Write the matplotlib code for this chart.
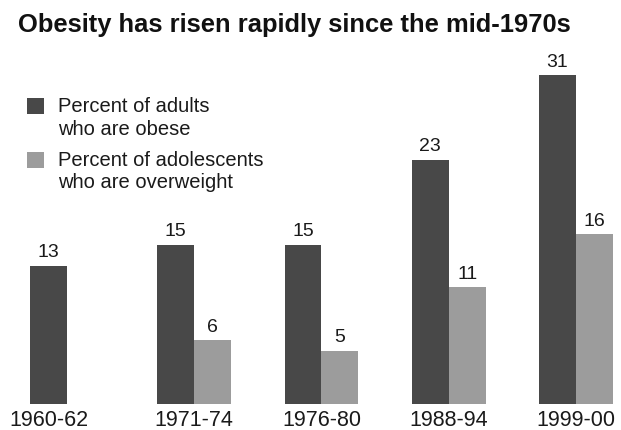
import matplotlib
matplotlib.use("Agg")
import matplotlib.pyplot as plt
from matplotlib.patches import Rectangle
import numpy as np

plt.rcParams['font.family'] = ['Liberation Sans', 'DejaVu Sans']

periods = ["1960-62", "1971-74", "1976-80", "1988-94", "1999-00"]
adults_obese = [13, 15, 15, 23, 31]
adolescents_overweight = [None, 6, 5, 11, 16]
legend_labels = ["Percent of adults\nwho are obese", "Percent of adolescents\nwho are overweight"]
title = "Obesity has risen rapidly since the mid-1970s"

dark = "#484848"
light = "#9c9c9c"

W, H = 621, 430
fig = plt.figure(figsize=(W / 100, H / 100), dpi=100)

# axes geometry in pixels
x_left, x_right = 16.1, 620.5
y_base, y_top = 404, 40
ax = fig.add_axes([x_left / W, (H - y_base) / H, (x_right - x_left) / W, (y_base - y_top) / H])
ax.set_xlim(-0.4, 4.35)
ax.set_ylim(0, 364 / 10.6)

w = 0.29
x = np.arange(len(periods))
tick_pos = []
for i, (a, b) in enumerate(zip(adults_obese, adolescents_overweight)):
    ax.bar(x[i] - w / 2, a, width=w, color=dark, linewidth=0)
    ax.annotate(str(a), (x[i] - w / 2, a), xytext=(0, 3.5), textcoords="offset points",
                ha="center", va="bottom", fontsize=14, color="#1a1a1a")
    if b is not None:
        ax.bar(x[i] + w / 2, b, width=w, color=light, linewidth=0)
        ax.annotate(str(b), (x[i] + w / 2, b), xytext=(0, 3.5), textcoords="offset points",
                    ha="center", va="bottom", fontsize=14, color="#1a1a1a")
        tick_pos.append(x[i])
    else:
        tick_pos.append(x[i] - w / 2)

ax.set_xticks(tick_pos)
ax.set_xticklabels(periods, fontsize=15.5, color="#1a1a1a")
ax.tick_params(axis="x", length=0, pad=4)
ax.set_yticks([])
for s in ax.spines.values():
    s.set_visible(False)
ax.patch.set_alpha(0)

# title
fig.text(18 / W, 1 - 32 / H, title, fontsize=18.4, fontweight="bold", ha="left", va="baseline", color="#111111")

# legend (manual)
entries = [(dark, legend_labels[0], 98, [112, 135]), (light, legend_labels[1], 152, [166, 188])]
for col, lab, sq_top, baselines in entries:
    fig.add_artist(Rectangle((27 / W, 1 - (sq_top + 16) / H), 17 / W, 16 / H,
                             transform=fig.transFigure, color=col, linewidth=0))
    for line, bl in zip(lab.split("\n"), baselines):
        fig.text(58 / W, 1 - bl / H, line, fontsize=14.5, ha="left", va="baseline", color="#1a1a1a")

fig.savefig("out.png", dpi=100)
